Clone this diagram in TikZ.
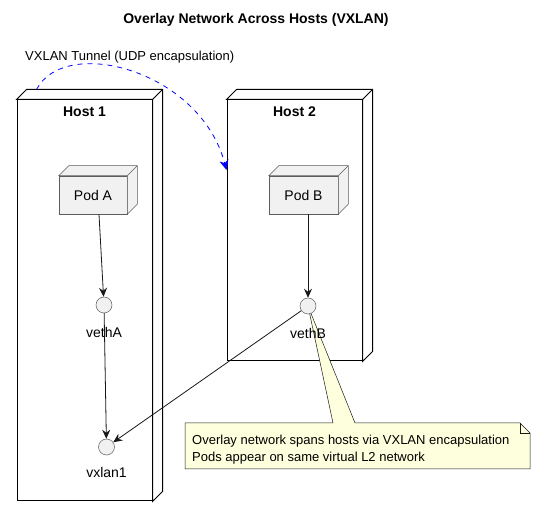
\documentclass[tikz,border=0pt]{standalone}
\usepackage{fontspec}
\setmainfont{Liberation Sans}
\usetikzlibrary{arrows.meta}
\definecolor{podfill}{HTML}{F1F1F1}
\definecolor{linec}{HTML}{181818}
\definecolor{notefill}{HTML}{FEFFDD}
\definecolor{tunnelc}{HTML}{0000FF}
\newcommand\boxdepth[2]{%
  \filldraw[#2] (#1.north west) -- ++(10,-10) -| ([xshift=10pt,yshift=10pt]#1.south east) -- (#1.south east) -- (#1.north east) -- cycle;
  \draw[#2] (#1.north east) -- ++(10,-10);
}
\begin{document}
\begin{tikzpicture}[x=1pt,y=-1pt,
  hostbox/.style={draw=black, line width=1pt, fill=white, minimum width=135pt, inner sep=0},
  hostface/.style={draw=black, line width=1pt, fill=white},
  podbox/.style={draw=linec!70, line width=0.5pt, fill=podfill, minimum width=68pt, minimum height=38pt, inner sep=0, font=\fontsize{14}{16}\selectfont},
  podface/.style={draw=linec!70, line width=0.5pt, fill=podfill},
  iface/.style={circle, draw=linec!70, line width=0.5pt, fill=podfill, minimum size=16pt, inner sep=0},
  lbl/.style={font=\fontsize{14}{16}\selectfont, inner sep=0},
  hostlbl/.style={font=\bfseries\fontsize{14}{16}\selectfont, inner sep=0},
  arr/.style={draw=linec, line width=0.8pt, -{Stealth[length=9pt,width=8pt,inset=3pt]}},
  notetext/.style={font=\fontsize{13}{17}\selectfont, inner sep=0, align=left, anchor=north west},
  tunnel/.style={draw=tunnelc, line width=0.8pt, dash pattern=on 5pt off 5pt, -{Stealth[length=10pt,width=9pt,inset=3pt]}}
]
\useasboundingbox (0,0) rectangle (536,518);
\node[font=\bfseries\fontsize{14}{16}\selectfont] (title) at (256,20) {Overlay Network Across Hosts (VXLAN)};

% hosts
\node[hostbox, minimum height=401pt] (host1) at (84.5,300.5) {};
\boxdepth{host1}{hostface}
\node[hostbox, minimum height=261pt] (host2) at (294.5,230.5) {};
\boxdepth{host2}{hostface}
\node[hostlbl] (h1lbl) at (84.5,112) {Host 1};
\node[hostlbl] (h2lbl) at (294.5,112) {Host 2};

% pods
\node[podbox] (podA) at (93,195) {Pod A};
\boxdepth{podA}{podface}
\node[podbox, minimum width=69pt] (podB) at (303.5,195) {Pod B};
\boxdepth{podB}{podface}

% note with wedge
\coordinate (vB) at (308,306);
\coordinate (nNW) at (185,423);
\coordinate (nSE) at (530,469);
\filldraw[fill=notefill, draw=linec, line width=0.5pt]
  (nNW) -- (333,423) -- (vB) -- (355,423) -- (520,423) -- (530,433) -- (nSE) -- (185,469) -- cycle;
\draw[linec, line width=0.5pt] (520,423) -- (520,433) -- (530,433);
\node[notetext] (note) at (192,435) {Overlay network spans hosts via VXLAN encapsulation\\Pods appear on same virtual L2 network};

% interfaces
\node[iface] (vethA) at (104,305) {};
\node[iface] (vethB) at (vB) {};
\node[iface] (vxlan1) at (106.5,447) {};
\node[lbl] (lA) at (104,332) {vethA};
\node[lbl] (lB) at (308,333) {vethB};
\node[lbl] (lX) at (106.5,472) {vxlan1};

% arrows
\draw[arr] ([xshift=6pt]podA.south) -- (vethA);
\draw[arr] ([xshift=4.5pt]podB.south) -- (vethB);
\draw[arr] (vethA) -- (vxlan1);
\draw[arr] (vethB) -- (vxlan1);

% tunnel
\coordinate (tstart) at ([xshift=20pt,yshift=10pt]host1.north west);
\coordinate (tend) at ([yshift=60.5pt]host2.west);
\draw[tunnel] (tstart) .. controls (65,35) and (200,70) .. (tend);
\node[font=\fontsize{13}{15}\selectfont, inner sep=0, anchor=west] (tlabel) at (25,57) {VXLAN Tunnel (UDP encapsulation)};
\end{tikzpicture}
\end{document}
